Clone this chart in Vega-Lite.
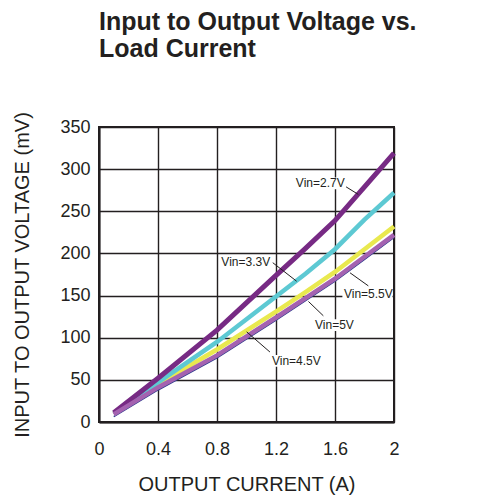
{
  "$schema": "https://vega.github.io/schema/vega-lite/v6.json",
  "width": 295,
  "height": 295,
  "autosize": {"type": "none"},
  "padding": {"left": 99, "top": 127, "right": 109, "bottom": 73},
  "background": "white",
  "title": {
    "text": ["Input to Output Voltage vs.", "Load Current"],
    "anchor": "start",
    "frame": "group",
    "font": "Liberation Sans",
    "fontSize": 25,
    "fontWeight": "bold",
    "lineHeight": 27,
    "color": "#231f20",
    "offset": 49
  },
  "config": {
    "view": {"stroke": "#231f20", "strokeWidth": 2},
    "axis": {
      "domainColor": "#231f20",
      "domainWidth": 2,
      "gridColor": "#231f20",
      "gridWidth": 1.4,
      "gridOpacity": 1,
      "ticks": false,
      "labelFlush": false,
      "labelFont": "Liberation Sans",
      "labelFontSize": 18,
      "labelColor": "#231f20",
      "titleFont": "Liberation Sans",
      "titleFontSize": 20,
      "titleFontWeight": "normal",
      "titleColor": "#231f20"
    }
  },
  "datasets": {
    "curves": [
      {"s": "2.7V", "I": 0.1, "V": 11},
      {"s": "2.7V", "I": 0.4, "V": 52},
      {"s": "2.7V", "I": 0.8, "V": 109},
      {"s": "2.7V", "I": 1.2, "V": 174},
      {"s": "2.7V", "I": 1.4, "V": 206},
      {"s": "2.7V", "I": 1.6, "V": 239},
      {"s": "2.7V", "I": 1.8, "V": 279},
      {"s": "2.7V", "I": 2.0, "V": 319},
      {"s": "3.3V", "I": 0.1, "V": 10},
      {"s": "3.3V", "I": 0.4, "V": 47},
      {"s": "3.3V", "I": 0.8, "V": 95},
      {"s": "3.3V", "I": 1.2, "V": 149},
      {"s": "3.3V", "I": 1.4, "V": 176},
      {"s": "3.3V", "I": 1.6, "V": 205},
      {"s": "3.3V", "I": 1.8, "V": 240},
      {"s": "3.3V", "I": 2.0, "V": 272},
      {"s": "4.5V", "I": 0.1, "V": 10},
      {"s": "4.5V", "I": 0.4, "V": 45},
      {"s": "4.5V", "I": 0.8, "V": 86},
      {"s": "4.5V", "I": 1.2, "V": 131},
      {"s": "4.5V", "I": 1.4, "V": 154},
      {"s": "4.5V", "I": 1.6, "V": 178},
      {"s": "4.5V", "I": 1.8, "V": 205},
      {"s": "4.5V", "I": 2.0, "V": 232},
      {"s": "5V", "I": 0.1, "V": 9},
      {"s": "5V", "I": 0.4, "V": 41},
      {"s": "5V", "I": 0.8, "V": 79},
      {"s": "5V", "I": 1.2, "V": 124},
      {"s": "5V", "I": 1.4, "V": 147},
      {"s": "5V", "I": 1.6, "V": 170},
      {"s": "5V", "I": 1.8, "V": 196},
      {"s": "5V", "I": 2.0, "V": 222},
      {"s": "5.5V", "I": 0.1, "V": 6.5},
      {"s": "5.5V", "I": 0.4, "V": 38},
      {"s": "5.5V", "I": 0.8, "V": 76},
      {"s": "5.5V", "I": 1.2, "V": 121},
      {"s": "5.5V", "I": 1.4, "V": 144},
      {"s": "5.5V", "I": 1.6, "V": 167},
      {"s": "5.5V", "I": 1.8, "V": 193},
      {"s": "5.5V", "I": 2.0, "V": 219}
    ],
    "labels": [
      {"label": "Vin=2.7V", "I": 1.50, "V": 283, "I1": 1.33, "I2": 1.68, "V1": 276, "V2": 290, "Ia": 1.675, "Va": 279, "Ib": 1.758, "Vb": 270},
      {"label": "Vin=3.3V", "I": 0.995, "V": 190, "I1": 0.83, "I2": 1.165, "V1": 183, "V2": 197, "Ia": 1.178, "Va": 189, "Ib": 1.34, "Vb": 167},
      {"label": "Vin=5.5V", "I": 1.826, "V": 151.5, "I1": 1.65, "I2": 1.99, "V1": 144.5, "V2": 158.5, "Ia": 1.826, "Va": 161.5, "Ib": 1.702, "Vb": 177},
      {"label": "Vin=5V", "I": 1.596, "V": 115, "I1": 1.465, "I2": 1.73, "V1": 108, "V2": 122, "Ia": 1.521, "Va": 126, "Ib": 1.42, "Vb": 143},
      {"label": "Vin=4.5V", "I": 1.338, "V": 72.5, "I1": 1.17, "I2": 1.505, "V1": 65.5, "V2": 79.5, "Ia": 1.159, "Va": 83, "Ib": 1.001, "Vb": 107}
    ]
  },
  "encoding": {
    "x": {
      "field": "I",
      "type": "quantitative",
      "scale": {"domain": [0, 2], "nice": false, "zero": false},
      "axis": {
        "title": "OUTPUT CURRENT (A)",
        "values": [0, 0.4, 0.8, 1.2, 1.6, 2],
        "format": "~g",
        "labelPadding": 18,
        "titlePadding": 16
      }
    },
    "y": {
      "field": "V",
      "type": "quantitative",
      "scale": {"domain": [0, 350], "nice": false},
      "axis": {
        "title": "INPUT TO OUTPUT VOLTAGE (mV)",
        "values": [0, 50, 100, 150, 200, 250, 300, 350],
        "labelPadding": 9,
        "titlePadding": 27
      }
    }
  },
  "layer": [
    {
      "data": {"name": "labels"},
      "mark": {"type": "rect", "fill": "white"},
      "encoding": {
        "x": {"field": "I1", "type": "quantitative"},
        "x2": {"field": "I2"},
        "y": {"field": "V1", "type": "quantitative"},
        "y2": {"field": "V2"}
      }
    },
    {
      "data": {"name": "curves"},
      "transform": [{"filter": "datum.s == '5.5V'"}],
      "mark": {"type": "line", "color": "#2b3a8c", "strokeWidth": 1.5}
    },
    {
      "data": {"name": "curves"},
      "transform": [{"filter": "datum.s == '4.5V'"}],
      "mark": {"type": "line", "color": "#e9e94f", "strokeWidth": 4.5}
    },
    {
      "data": {"name": "curves"},
      "transform": [{"filter": "datum.s == '3.3V'"}],
      "mark": {"type": "line", "color": "#5dc9d3", "strokeWidth": 4.5}
    },
    {
      "data": {"name": "curves"},
      "transform": [{"filter": "datum.s == '2.7V'"}],
      "mark": {"type": "line", "color": "#772a84", "strokeWidth": 5}
    },
    {
      "data": {"name": "curves"},
      "transform": [{"filter": "datum.s == '5V'"}],
      "mark": {"type": "line", "color": "#a462b0", "strokeWidth": 4.5}
    },
    {
      "data": {"name": "labels"},
      "mark": {"type": "rule", "color": "#231f20", "strokeWidth": 1},
      "encoding": {
        "x": {"field": "Ia", "type": "quantitative"},
        "x2": {"field": "Ib"},
        "y": {"field": "Va", "type": "quantitative"},
        "y2": {"field": "Vb"}
      }
    },
    {
      "data": {"name": "labels"},
      "mark": {"type": "text", "font": "Liberation Sans", "fontSize": 12, "color": "#231f20", "align": "center", "baseline": "middle"},
      "encoding": {"text": {"field": "label"}}
    }
  ]
}
